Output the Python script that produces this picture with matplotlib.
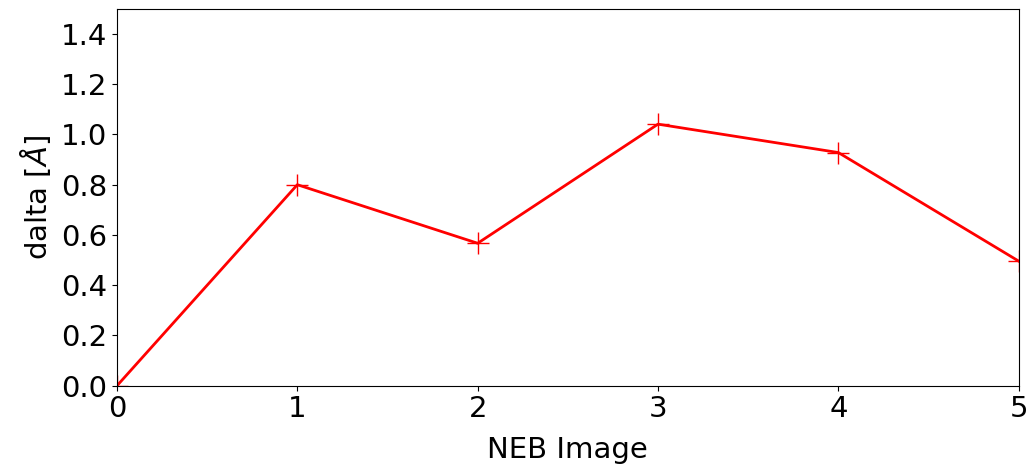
import numpy as np
import matplotlib
matplotlib.use('Agg')
import matplotlib.pyplot as plt

images = [0, 1, 2, 3, 4, 5]
delta = [0.0, 0.80, 0.567, 1.041, 0.928, 0.496]

fig = plt.figure(figsize=(10.3, 4.65), dpi=100)
ax = fig.add_axes([0.1136, 0.1705, 0.8754, 0.8105])
ax.plot(images, delta, color='red', linewidth=2, marker='+', markersize=16)

ax.set_xlim(0, 5)
ax.set_ylim(0, 1.5)
ax.set_yticks(np.arange(0, 1.41, 0.2))
ax.tick_params(labelsize=21)
ax.set_xlabel('NEB Image', fontsize=21, labelpad=9)
ax.set_ylabel(r'dalta [$\AA$]', fontsize=21, labelpad=6)

plt.savefig('out.png')
